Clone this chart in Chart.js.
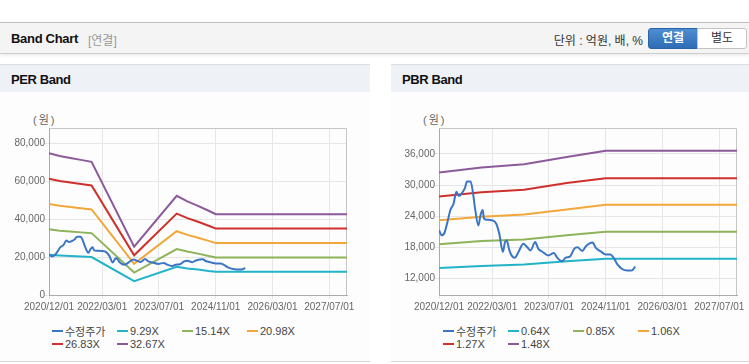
<!DOCTYPE html>
<html>
<head>
<meta charset="utf-8">
<script src="https://cdn.jsdelivr.net/npm/chart.js@4.4.1/dist/chart.umd.min.js"></script>
<style>
body{margin:0;width:749px;height:364px;overflow:hidden;background:#fff;position:relative;
  font-family:"Liberation Sans",Arial,"Noto Sans CJK KR",sans-serif;}
.top{position:absolute;left:0;top:22px;width:749px;height:30px;background:#f4f4f4;
  border-top:1px solid #bdbdbd;border-bottom:1px solid #cdcdcd;box-shadow:0 2px 3px rgba(0,0,0,.07);}
.top .t1{position:absolute;left:11px;top:8px;font-weight:bold;font-size:13px;letter-spacing:-0.3px;color:#111;}
.top .t2{position:absolute;left:88px;top:8px;font-size:12px;color:#999;}
.top .unit{position:absolute;right:106px;top:8px;font-size:12px;color:#333;}
.top .btn{position:absolute;top:5px;width:48px;height:19px;line-height:19px;text-align:center;font-size:12px;}
.top .on{left:648px;background:linear-gradient(#4d8dd2,#2e6db3);border:1px solid #2b64a6;color:#fff;font-weight:bold;border-radius:3px 0 0 3px;}
.top .off{left:697px;background:#fff;border:1px solid #c2c2c2;color:#333;border-radius:0 3px 3px 0;}
.panel{position:absolute;top:64px;width:370px;height:297px;overflow:hidden;background:#fdfdfd;border-bottom:1px solid #d6d6d6;}
.phead{position:absolute;left:0;top:0;width:370px;height:27px;background:#eef2f7;border-top:1px solid #dddddd;}
.phead span{position:absolute;left:11px;top:7px;font-weight:bold;font-size:13px;letter-spacing:-0.4px;color:#111;}
.unitw{position:absolute;top:47px;font-size:11px;letter-spacing:2px;color:#666;}
.panel canvas{position:absolute;left:0;top:29px;}
.legend{position:absolute;left:52px;top:260px;display:grid;grid-template-columns:repeat(4,65px);
  grid-auto-rows:13px;font-size:11px;color:#444;}
.legend div{display:flex;align-items:center;white-space:nowrap;}
.legend i{display:inline-block;width:11px;height:2px;margin-right:2px;}
</style>
</head>
<body>
<div class="top">
  <span class="t1">Band Chart</span><span class="t2">[연결]</span>
  <span class="unit">단위 : 억원, 배, %</span>
  <span class="btn on">연결</span><span class="btn off">별도</span>
</div>

<div class="panel" style="left:0">
  <div class="phead"><span>PER Band</span></div>
  <div class="unitw" style="left:33px">(원)</div>
  <canvas id="per-chart" width="370" height="230"></canvas>
  <div class="legend" id="per-legend"></div>
</div>

<div class="panel" style="left:391px">
  <div class="phead"><span>PBR Band</span></div>
  <div class="unitw" style="left:32px">(원)</div>
  <canvas id="pbr-chart" width="370" height="230"></canvas>
  <div class="legend" id="pbr-legend"></div>
</div>

<script>
// eje x
const xTickDates = ['2020/12/01', '2022/03/01', '2023/07/01', '2024/11/01', '2026/03/01', '2027/07/01'];
const xEndDate = '2027/12/01';

// 수정주가
const priceDates = ['2020/12/01', '2020/12/25', '2021/01/19', '2021/02/16', '2021/03/07', '2021/04/04',
    '2021/04/28', '2021/05/19', '2021/06/10', '2021/07/10', '2021/07/28', '2021/08/28', '2021/09/19',
    '2021/10/04', '2021/11/04', '2021/11/22', '2021/12/10', '2021/12/22', '2022/01/19', '2022/02/28',
    '2022/04/04', '2022/05/01', '2022/06/01', '2022/06/19', '2022/07/04', '2022/07/25', '2022/08/16',
    '2022/09/13', '2022/10/13', '2022/11/25', '2022/12/28', '2023/01/25', '2023/03/04', '2023/04/01',
    '2023/05/07', '2023/06/25', '2023/08/13', '2023/09/10', '2023/10/22', '2023/11/22', '2023/12/28',
    '2024/02/04', '2024/03/01', '2024/04/13', '2024/05/13', '2024/07/10', '2024/08/07', '2024/09/19',
    '2024/11/01', '2024/12/10', '2025/01/07', '2025/02/13', '2025/04/10', '2025/06/04', '2025/06/19',
    '2025/07/10'];
const priceValues = [21300, 20300, 20900, 23200, 25200, 26400, 28700, 27900, 28300, 29400, 30700, 30700,
    28400, 25800, 22200, 24200, 25200, 23500, 23300, 23200, 22600, 20600, 17100, 19000, 19300, 17500,
    16400, 16000, 17100, 18700, 18000, 17400, 19000, 17700, 17100, 16400, 16900, 16000, 15300, 16000,
    16200, 17700, 18000, 17300, 18200, 18900, 17900, 17200, 16600, 16600, 16000, 14600, 13600, 13500,
    13600, 14300];

// PER band
const perDates = ['2020/12/01', '2021/03/01', '2021/06/01', '2021/09/01', '2021/12/01', '2022/12/01',
    '2023/12/01', '2024/03/01', '2024/06/01', '2024/09/01', '2024/11/01', '2027/12/01'];
const perLabels = ['9.29X', '15.14X', '20.98X', '26.83X', '32.67X'];
const per929 = [21200, 20800, 20500, 20300, 20000, 7300, 14900, 14000, 13400, 12600, 12200, 12200];
const per1514 = [34600, 33900, 33500, 33000, 32600, 11800, 24200, 22900, 21800, 20600, 19800, 19800];
const per2098 = [47900, 47000, 46400, 45700, 45100, 16400, 33600, 31700, 30200, 28500, 27400, 27400];
const per2683 = [61300, 60100, 59300, 58500, 57700, 20900, 42900, 40500, 38600, 36500, 35000, 35000];
const per3267 = [74700, 73200, 72200, 71200, 70200, 25500, 52300, 49300, 47000, 44400, 42600, 42600];
const perTicks = [0, 20000, 40000, 60000, 80000];

// PBR band
const pbrDates = ['2020/12/01', '2021/12/01', '2022/12/01', '2023/12/01', '2024/11/01', '2027/12/01'];
const pbrLabels = ['0.64X', '0.85X', '1.06X', '1.27X', '1.48X'];
const pbr064 = [14000, 14400, 14700, 15300, 15800, 15800];
const pbr085 = [18600, 19200, 19500, 20300, 21000, 21000];
const pbr106 = [23200, 23900, 24300, 25300, 26200, 26200];
const pbr127 = [27800, 28600, 29100, 30400, 31300, 31300];
const pbr148 = [32400, 33400, 34000, 35400, 36600, 36600];
const pbrTicks = [12000, 18000, 24000, 30000, 36000];

const colores = ['#3a76c4', '#22b3c8', '#8db35b', '#f2a73a', '#d0302c', '#8c5a9b'];

// meses desde 2020/12/01
function toMonth(s) {
    const [y, m, d] = s.split('/').map(Number);
    return (y - 2020) * 12 + (m - 12) + (d - 1) / 30;
}

function puntos(fechas, valores) {
    return fechas.map((f, i) => ({ x: toMonth(f), y: valores[i] }));
}

const marco = {
    id: 'marco',
    beforeDatasetsDraw(chart) {
        const { ctx, chartArea: a } = chart;
        ctx.save();
        ctx.strokeStyle = '#c6c6c6';
        ctx.lineWidth = 1;
        ctx.beginPath();
        ctx.moveTo(a.left, a.top + 0.5);
        ctx.lineTo(a.right - 0.5, a.top + 0.5);
        ctx.lineTo(a.right - 0.5, a.bottom);
        ctx.stroke();
        ctx.restore();
    }
};

function crearBanda(canvasId, legendId, fechas, etiquetas, series, yMin, yMax, yTicks, yAncho, derecha) {
    const datasets = [{
        label: '수정주가', data: puntos(priceDates, priceValues),
        borderColor: colores[0], cubicInterpolationMode: 'monotone'
    }];
    series.forEach((s, i) => {
        datasets.push({ label: etiquetas[i], data: puntos(fechas, s), borderColor: colores[i + 1], tension: 0 });
    });

    new Chart(document.getElementById(canvasId), {
        type: 'line',
        data: { datasets },
        options: {
            responsive: false,
            animation: false,
            layout: { padding: { top: 35, right: derecha, left: 0, bottom: 0 } },
            elements: { point: { radius: 0 }, line: { borderWidth: 2 } },
            plugins: { legend: { display: false }, tooltip: { enabled: false } },
            scales: {
                x: {
                    type: 'linear', min: 0, max: toMonth(xEndDate),
                    afterBuildTicks: s => { s.ticks = xTickDates.map(d => ({ value: toMonth(d) })); },
                    afterFit: s => { s.height = 28; },
                    ticks: {
                        callback: (v, i) => xTickDates[i],
                        autoSkip: false, maxRotation: 0, padding: 2,
                        color: '#666', font: { size: 10, family: '"Liberation Sans", Arial, sans-serif' }
                    },
                    grid: { color: '#e6e6e6', tickLength: 4 },
                    border: { color: '#aaa' }
                },
                y: {
                    min: yMin, max: yMax,
                    afterBuildTicks: s => { s.ticks = yTicks.map(v => ({ value: v })); },
                    afterFit: s => { s.width = yAncho; },
                    ticks: {
                        callback: v => v.toLocaleString('en-US'),
                        padding: 0,
                        color: '#666', font: { size: 10, family: '"Liberation Sans", Arial, sans-serif' }
                    },
                    grid: { color: '#e6e6e6', tickLength: 4 },
                    border: { color: '#aaa' }
                }
            }
        },
        plugins: [marco]
    });

    const leyenda = document.getElementById(legendId);
    leyenda.innerHTML = datasets.map(d =>
        `<div><i style="background:${d.borderColor}"></i>${d.label}</div>`).join('');
}

crearBanda('per-chart', 'per-legend', perDates, perLabels,
    [per929, per1514, per2098, per2683, per3267], 0, 88000, perTicks, 49, 23);
crearBanda('pbr-chart', 'pbr-legend', pbrDates, pbrLabels,
    [pbr064, pbr085, pbr106, pbr127, pbr148], 8800, 41000, pbrTicks, 48, 24);
</script>
</body>
</html>
